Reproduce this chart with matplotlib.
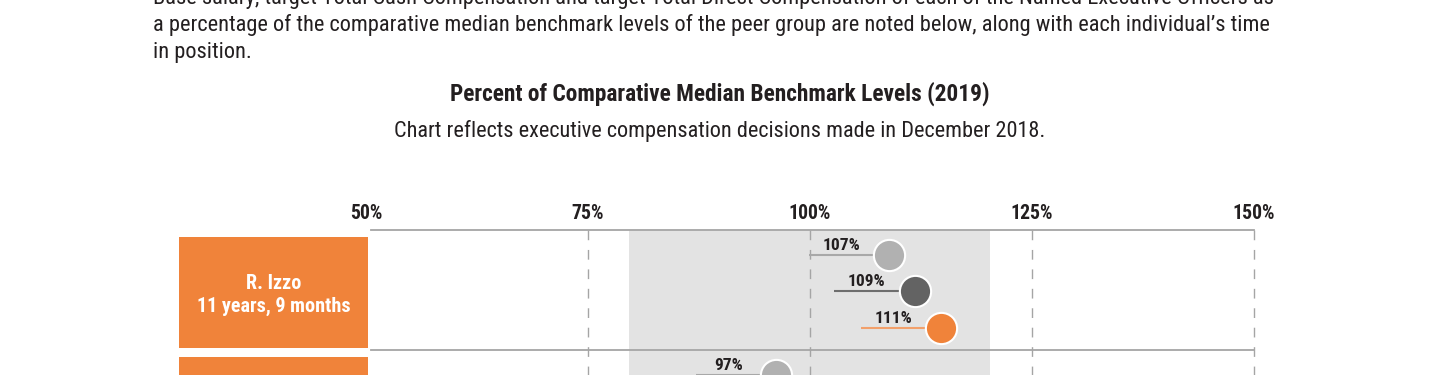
import matplotlib
matplotlib.use("Agg")
import matplotlib.pyplot as plt
from matplotlib import font_manager
from matplotlib.patches import Rectangle

# ---------------- data ----------------
para_lines = [
    "Base salary, target Total Cash Compensation and target Total Direct Compensation of each of the Named Executive Officers as",
    "a percentage of the comparative median benchmark levels of the peer group are noted below, along with each individual\u2019s time",
    "in position.",
]
title = "Percent of Comparative Median Benchmark Levels (2019)"
subtitle = "Chart reflects executive compensation decisions made in December 2018."
tick_values = [50, 75, 100, 125, 150]
tick_labels = ["50%", "75%", "100%", "125%", "150%"]
band_range = [79.6, 120.3]
executives = ["R. Izzo\n11 years, 9 months", ""]
# labelled percentages per executive (Base salary, Total Cash, Total Direct)
label_values = [[107, 109, 111], [97]]
# marker positions as drawn in the picture (percent scale)
marker_pos = [[108.9, 111.8, 114.8], [96.2]]

# ---------------- style ----------------
names = {f.name for f in font_manager.fontManager.ttflist}
FAM = ["Roboto Condensed", "DejaVu Sans"] if "Roboto Condensed" in names else ["DejaVu Sans"]
plt.rcParams["font.family"] = FAM

ORANGE = "#F0833A"
ORANGE_LINE = "#F2A06B"
BAND = "#E3E3E3"
AXIS = "#A5A5A5"
TEXT = "#231F20"
dot_colors = ["#B1B1B1", "#636363", ORANGE]
line_colors = ["#A8A8A8", "#6E6E6E", ORANGE_LINE]
slot_offsets = [0.205, 0.51, 0.815]

W, H = 1440, 375
fig = plt.figure(figsize=(W / 100, H / 100), dpi=100)

def fy(px):
    return 1 - px / H

# paragraph
for i, line in enumerate(para_lines):
    fig.text(153 / W, fy(4 + 27 * i), line, fontsize=16.1, color=TEXT,
             va="baseline", ha="left")
fig.text(0.5, fy(101), title, fontsize=16.8, fontweight="bold", color=TEXT,
         ha="center", va="baseline")
fig.text(0.5, fy(137), subtitle, fontsize=16.0, color=TEXT,
         ha="center", va="baseline")

# axes: x in percent, y in rows
x0, x1 = 366, 1254
top, bottom = 230, 470
ax = fig.add_axes([x0 / W, fy(bottom), (x1 - x0) / W, (bottom - top) / H])
ax.set_xlim(tick_values[0], tick_values[-1])
nrows = len(executives)
ax.set_ylim(nrows, 0)
for s in ax.spines.values():
    s.set_visible(False)
ax.set_yticks([])
ax.xaxis.tick_top()
ax.set_xticks(tick_values)
ax.set_xticklabels(tick_labels, fontsize=14.2, fontweight="bold", color=TEXT)
ax.tick_params(axis="x", length=0, pad=5)

# pixel -> percent scale
pxper = (x1 - x0) / (tick_values[-1] - tick_values[0])
radius = 15.5 / pxper
leader = 65 / pxper

ax.axvspan(band_range[0], band_range[1], color=BAND, zorder=0, lw=0)
for t in tick_values[1:]:
    ax.plot([t, t], [0, nrows], color=AXIS, lw=1.0, dashes=(7, 7), zorder=1, clip_on=False)
for r in range(nrows + 1):
    ax.plot([tick_values[0] + 5 / pxper, tick_values[-1]], [r, r], color=AXIS, lw=1.3,
            zorder=1, clip_on=False)

box_left = 50 - (x0 - 179) / pxper
box_right = 50 + (368 - x0) / pxper
for r, name in enumerate(executives):
    ax.add_patch(Rectangle((box_left, r + 0.058), box_right - box_left, 0.925,
                           facecolor=ORANGE, edgecolor="none", clip_on=False, zorder=2))
    ax.text((box_left + box_right) / 2, r + 0.54, name, color="white", fontsize=14.5,
            fontweight="bold", ha="center", va="center", linespacing=1.25,
            clip_on=False)
    for k, (lab, pos) in enumerate(zip(label_values[r], marker_pos[r])):
        y = r + slot_offsets[k]
        xs, xe = pos - radius - leader, pos - radius
        ax.plot([xs, xe], [y, y], color=line_colors[k], lw=1.5, zorder=3,
                solid_capstyle="butt")
        ax.scatter([pos], [y], s=22.5 ** 2, color=dot_colors[k], edgecolor="white",
                   linewidth=1.5, zorder=4, clip_on=False)
        ax.text((xs + xe) / 2, y - 0.015, f"{lab}%", fontsize=12.5, fontweight="bold",
                color=TEXT, ha="center", va="bottom", zorder=5)

fig.savefig("out.png", dpi=100)
